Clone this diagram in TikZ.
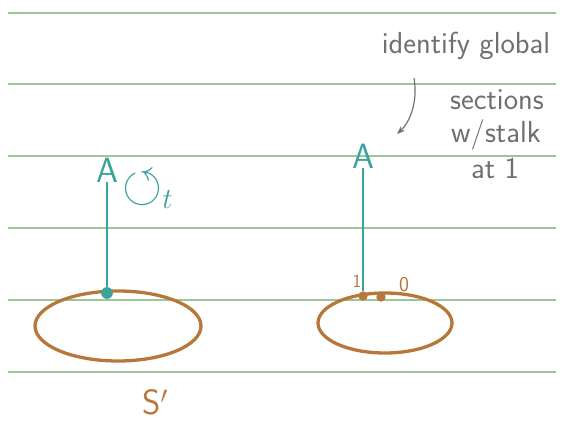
\documentclass[tikz,border=0pt]{standalone}
\usepackage{amssymb}
\usetikzlibrary{arrows.meta}

\definecolor{ruleline}{HTML}{9CC795}
\definecolor{tealink}{HTML}{3AA39B}
\definecolor{brownink}{HTML}{B8773A}
\definecolor{pencil}{HTML}{707070}

\tikzset{
  tealtext/.style={text=tealink, font=\sffamily\fontsize{30}{32}\selectfont, inner sep=0pt},
  browntext/.style={text=brownink, font=\sffamily\fontsize{30}{32}\selectfont, inner sep=0pt},
  notetext/.style={text=pencil, font=\sffamily\fontsize{26}{28}\selectfont, inner sep=0pt},
  inkdot/.style={circle, fill=#1, inner sep=0pt, minimum size=10pt},
  circleline/.style={brownink, line width=2.8pt},
  stemline/.style={tealink, line width=2pt}
}

\begin{document}
\begin{tikzpicture}[x=0.3mm,y=-0.3mm]
\useasboundingbox (0,0) rectangle (569,438);

% ===== ruled paper =====
\foreach \y in {13,84,156,228,300,372} {
  \draw[ruleline, line width=1.2pt] (8,\y) -- (556,\y);
}

% ===== left: S^1 with the action =====
\draw[circleline] (118,326) ellipse [x radius=83, y radius=35];
\node[inkdot=tealink] (base1) at (107,293) {};
\node[tealtext] (A1) at (107,170) {A};
\node[tealtext, font=\fontsize{44}{46}\selectfont, anchor=west] (act) at (122,190) {$\circlearrowleft_{t}$};
\draw[stemline] (base1) -- (A1);
\node[browntext] (S) at (155,402) {S$'$};

% ===== right: stalks at 1 and 0 =====
\draw[circleline] (385,323) ellipse [x radius=67, y radius=30];
\node[inkdot=brownink, minimum size=8pt] (one) at (363,296) {};
\node[inkdot=brownink, minimum size=8pt] (zero) at (381,297) {};
\node[tealtext] (A2) at (363,156) {A};
\draw[stemline] (one) -- (A2);
\node[text=brownink, font=\sffamily\fontsize{16}{18}\selectfont] (lab1) at (357,281) {1};
\node[text=brownink, font=\sffamily\fontsize{18}{20}\selectfont] (lab0) at (404,285) {0};

% ===== note =====
\node[notetext] (n1) at (466,46) {identify global};
\node[notetext] (n2) at (497,100) {sections};
\node[notetext] (n3) at (496,135) {w/stalk};
\node[notetext] (n4) at (495,168) {at 1};
\coordinate (tail) at (414,78);
\coordinate (tip) at (397,134);
\draw[pencil, line width=1pt, -{Stealth[length=7pt]}] (tail) .. controls (418,102) and (410,122) .. (tip);

\end{tikzpicture}
\end{document}
